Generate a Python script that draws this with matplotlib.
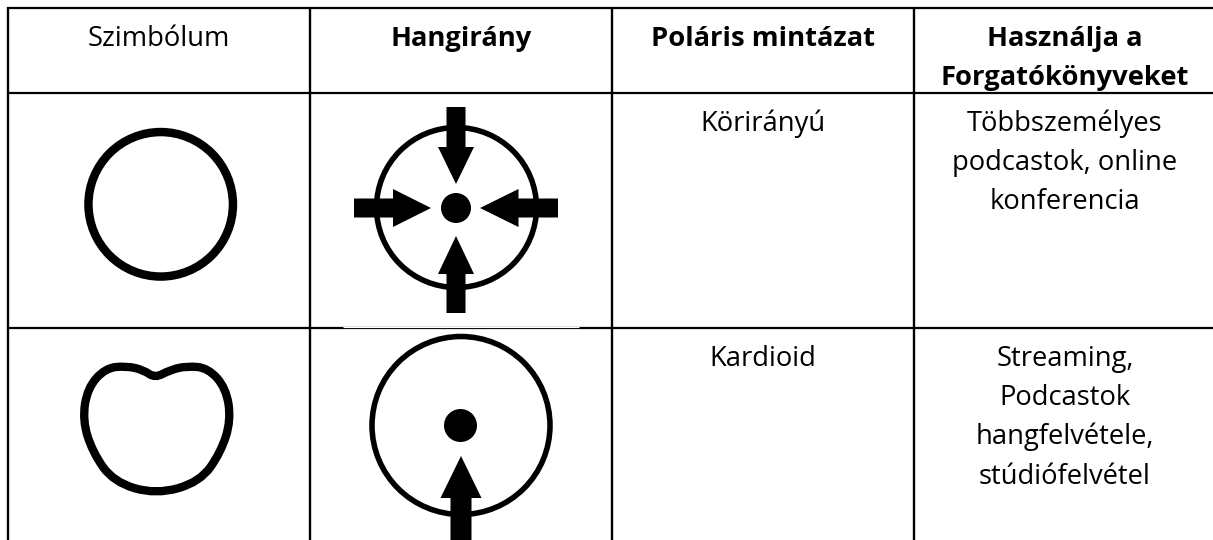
import matplotlib
matplotlib.use('Agg')
import matplotlib.pyplot as plt
from matplotlib.patches import Ellipse, Polygon, PathPatch
from matplotlib.path import Path

W, H = 1213, 540
plt.rcParams['font.family'] = ['Open Sans', 'DejaVu Sans']

# table grid, in picture pixels (the right border falls off the picture)
col_lines = [8, 310, 612, 914]
row_lines = [7.5, 92.5, 328]
centres = [159, 461, 763, 1065]

headers = [['Szimbólum'], ['Hangirány'], ['Poláris mintázat'], ['Használja a', 'Forgatókönyveket']]
header_bold = [False, True, True, True]
patterns = ['Körirányú', 'Kardioid']
uses = [['Többszemélyes', 'podcastok, online', 'konferencia'],
	['Streaming,', 'Podcastok', 'hangfelvétele,', 'stúdiófelvétel']]
row_baselines = [131, 366]

# control points of the kidney shaped symbol
kidney_x = [155, 143.5, 126.5, 105.5, 87.5, 82.5, 92.5, 113.5, 156, 200, 221, 231, 226, 208, 187, 170]
kidney_y = [378, 370, 366, 368, 388, 420, 452, 482, 494.5, 482, 452, 420, 388, 368, 366, 370]

fig = plt.figure(figsize=(W/100, H/100), dpi=100)
ax = fig.add_axes([0, 0, 1, 1])
ax.set_xlim(0, W)
ax.set_ylim(H, 0)
ax.axis('off')

def arrow(tip, base, end, half_w, half_h):
	''' Draws a block arrow along one axis, pointing at tip '''
	(tx, ty), (bx, by), (ex, ey) = tip, base, end
	if tx == bx:
		pts = [(tx, ty), (bx+half_h, by), (bx+half_w, by), (ex+half_w, ey), (ex-half_w, ey), (bx-half_w, by), (bx-half_h, by)]
	else:
		pts = [(tx, ty), (bx, by+half_h), (bx, by+half_w), (ex, ey+half_w), (ex, ey-half_w), (bx, by-half_w), (bx, by-half_h)]
	ax.add_patch(Polygon(pts, closed=True, fc='black', ec='none', zorder=4))

def cell_text(cx, y, lines, bold=False):
	''' Writes the lines of one cell, centred, one baseline per line '''
	for i, line in enumerate(lines):
		ax.text(cx, y+i*39.2, line, ha='center', va='baseline', fontsize=19.7,
			fontweight='bold' if bold else 'normal', color='black')

# grid lines
for x in col_lines:
	ax.plot([x, x], [row_lines[0]-1, H], color='black', lw=1.7, solid_capstyle='butt')
for y in row_lines:
	ax.plot([col_lines[0]-1, W], [y, y], color='black', lw=1.6, solid_capstyle='butt')
# the picture of the top arrow cuts into the line below it
ax.plot([343, 579], [327, 327], color='white', lw=0.8, solid_capstyle='butt', zorder=3)

# header row
for cx, label, bold in zip(centres, headers, header_bold):
	cell_text(cx, 45.5, label, bold)

# text cells
for y, pat, use in zip(row_baselines, patterns, uses):
	cell_text(centres[2], y, [pat])
	cell_text(centres[3], y, use)

# symbols, first row
ax.add_patch(Ellipse((160.7, 204.3), 144.5, 144.5, fc='none', ec='black', lw=6.1))
ax.add_patch(Ellipse((456.5, 207.5), 160, 160, fc='none', ec='black', lw=4))
ax.add_patch(Ellipse((456, 208), 30, 30, fc='black', ec='none'))
arrow((456, 184), (456, 147), (456, 107), 9.5, 18)
arrow((456, 236), (456, 274), (456, 313), 9.5, 18)
arrow((431, 208), (393, 208), (354, 208), 9.5, 19)
arrow((480, 208), (518.5, 208), (558, 208), 9.5, 19)

# symbols, second row: smooth closed outline through the midpoints of the control points
ctrl = list(zip(kidney_x, kidney_y))
mid = lambda a, b: ((a[0]+b[0])/2, (a[1]+b[1])/2)
verts = [mid(ctrl[-1], ctrl[0])]
codes = [Path.MOVETO]
for i, p in enumerate(ctrl):
	verts += [p, mid(p, ctrl[(i+1) % len(ctrl)])]
	codes += [Path.CURVE3, Path.CURVE3]
ax.add_patch(PathPatch(Path(verts, codes), fc='none', ec='black', lw=6))
ax.add_patch(Ellipse((461, 425.5), 178, 178, fc='none', ec='black', lw=4))
ax.add_patch(Ellipse((460.5, 425.5), 33, 33, fc='black', ec='none'))
arrow((461, 456), (461, 498), (461, 540), 10.5, 20.5)

fig.savefig('out.png', dpi=100)
